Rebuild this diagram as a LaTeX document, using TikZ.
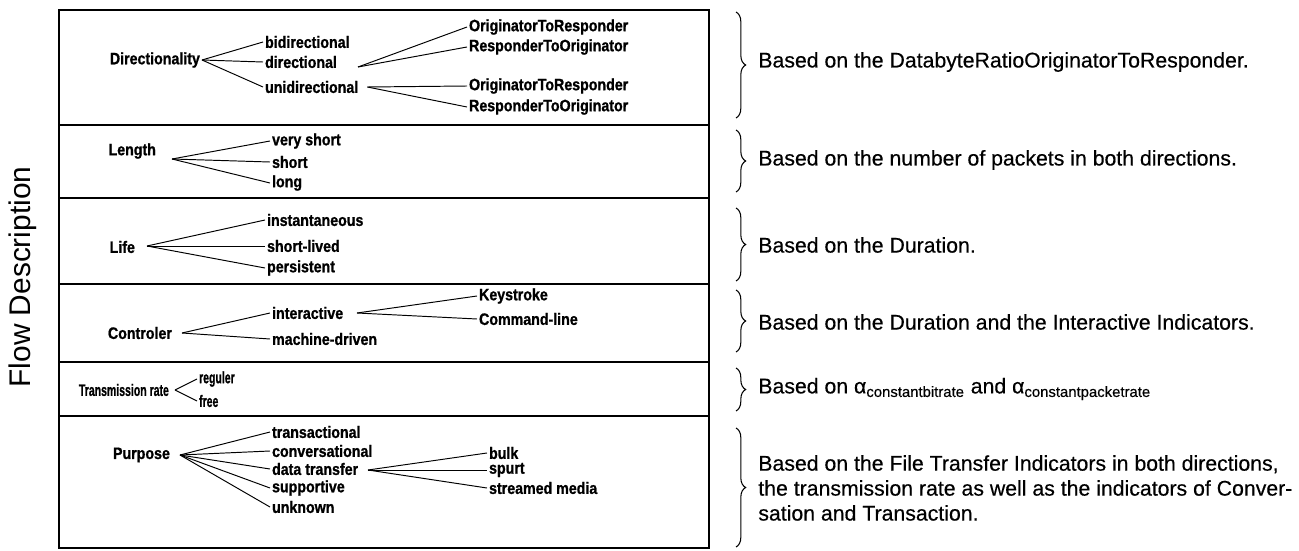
\documentclass[tikz,border=0pt]{standalone}
\usepackage{fontspec}
\setmainfont{Liberation Sans}
\newfontfamily\lblfam{Liberation Sans}[FakeStretch=0.86, FakeBold=1]
\newfontfamily\notefam{Liberation Sans}[FakeBold=0.4]
\usepackage{graphicx}
\usetikzlibrary{decorations.pathreplacing}
\newcommand{\lblfont}{\lblfam\fontsize{9.4}{11}\selectfont\bfseries}
\newcommand{\notefont}{\notefam\fontsize{12.1}{14.2}\selectfont}
\tikzset{
  cat/.style={font=\lblfont, inner sep=1pt, anchor=east},
  val/.style={font=\lblfont, inner sep=1pt, anchor=west},
  note/.style={font=\notefont, inner sep=0pt, anchor=west, align=left},
  br/.style={line width=0.55pt},
  sep/.style={line width=0.9pt},
  brc/.style={decorate, decoration={brace, amplitude=5.5pt}, line width=0.6pt}
}

\begin{document}
\begin{tikzpicture}[x=0.02cm, y=-0.02cm]
    \useasboundingbox (0,0) rectangle (1299,551);

    % Frame and row separators
    \draw[sep] (59,10) rectangle (709,548);
    \foreach \y in {125, 198, 284, 362, 416} {
        \draw[sep] (59,\y) -- (709,\y);
    }

    \node[rotate=90, font=\fontsize{17}{20}\selectfont] (flow) at (23,277) {Flow Description};

    % Directionality
    \node[cat] (dir) at (202,60) {Directionality};
    \node[val] (bidir) at (263,42) {bidirectional};
    \node[val] (direc) at (263,62) {directional};
    \node[val] (unidir) at (263,87) {unidirectional};
    \coordinate (direcfan) at (358,67);
    \node[val] (otr1) at (467,27) {OriginatorToResponder};
    \node[val] (rto1) at (467,47) {ResponderToOriginator};
    \node[val] (otr2) at (467,86) {OriginatorToResponder};
    \node[val] (rto2) at (467,107) {ResponderToOriginator};
    \foreach \n in {bidir, direc, unidir} {
        \draw[br] (dir.east) -- (\n.west);
    }
    \draw[br] (direcfan) -- (otr1.west);
    \draw[br] (direcfan) -- (rto1.west);
    \draw[br] ([xshift=4pt]unidir.east) -- (otr2.west);
    \draw[br] ([xshift=4pt]unidir.east) -- (rto2.west);

    % Length
    \node[cat] (len) at (158,151) {Length};
    \coordinate (lenfan) at (172,159);
    \node[val] (vshort) at (270,141) {very short};
    \node[val] (short) at (270,162) {short};
    \node[val] (long) at (270,183) {long};
    \foreach \n in {vshort, short, long} {
        \draw[br] (lenfan) -- (\n.west);
    }

    % Life
    \node[cat] (life) at (137,247) {Life};
    \coordinate (lifefan) at (147,246);
    \node[val] (inst) at (265,220) {instantaneous};
    \node[val] (slived) at (265,246) {short-lived};
    \node[val] (pers) at (265,268) {persistent};
    \foreach \n in {inst, slived, pers} {
        \draw[br] (lifefan) -- (\n.west);
    }

    % Controler
    \node[cat] (ctrl) at (174,333) {Controler};
    \coordinate (ctrlfan) at (182,333);
    \node[val] (inter) at (270,313) {interactive};
    \node[val] (mach) at (270,339) {machine-driven};
    \coordinate (interfan) at (357,313);
    \node[val] (keys) at (477,296) {Keystroke};
    \node[val] (cmd) at (477,319) {Command-line};
    \draw[br] (ctrlfan) -- (inter.west);
    \draw[br] (ctrlfan) -- (mach.west);
    \draw[br] (interfan) -- (keys.west);
    \draw[br] (interfan) -- (cmd.west);

    % Transmission rate
    \node[cat] (trate) at (171,390) {\scalebox{0.74}[1]{Transmission rate}};
    \coordinate (tratefan) at (175,390);
    \node[val] (reg) at (197,379) {\scalebox{0.74}[1]{reguler}};
    \node[val] (free) at (197,401) {\scalebox{0.74}[1]{free}};
    \draw[br] (tratefan) -- (reg.west);
    \draw[br] (tratefan) -- (free.west);

    % Purpose
    \node[cat] (purp) at (172,455) {Purpose};
    \coordinate (purpfan) at (180,455);
    \node[val] (trans) at (270,432) {transactional};
    \node[val] (conv) at (270,451) {conversational};
    \node[val] (dtrans) at (270,469) {data transfer};
    \node[val] (supp) at (270,488) {supportive};
    \node[val] (unkn) at (270,507) {unknown};
    \foreach \n in {trans, conv, dtrans, supp, unkn} {
        \draw[br] (purpfan) -- (\n.west);
    }
    \coordinate (dtransfan) at (368,470);
    \node[val] (bulk) at (487,453) {bulk};
    \node[val] (spurt) at (487,470) {spurt};
    \node[val] (strm) at (487,488) {streamed media};
    \foreach \n in {bulk, spurt, strm} {
        \draw[br] (dtransfan) -- (\n.west);
    }

    % Braces and criteria
    \draw[brc] (736,12) -- (736,118);
    \draw[brc] (736,130) -- (736,192);
    \draw[brc] (736,208) -- (736,281);
    \draw[brc] (736,290) -- (736,352);
    \draw[brc] (736,368) -- (736,411);
    \draw[brc] (736,428) -- (736,547);
    \node[note] (n1) at (758,62) {Based on the DatabyteRatioOriginatorToResponder.};
    \node[note] (n2) at (758,160) {Based on the number of packets in both directions.};
    \node[note] (n3) at (758,245) {Based on the Duration.};
    \node[note] (n4) at (758,322) {Based on the Duration and the Interactive Indicators.};
    \node[note] (n5) at (758,389) {Based on α\textsubscript{constantbitrate} and α\textsubscript{constantpacketrate}};
    \node[note] (n6) at (758,488) {Based on the File Transfer Indicators in both directions,\\
        the transmission rate as well as the indicators of Conver-\\
        sation and Transaction.};
\end{tikzpicture}
\end{document}
